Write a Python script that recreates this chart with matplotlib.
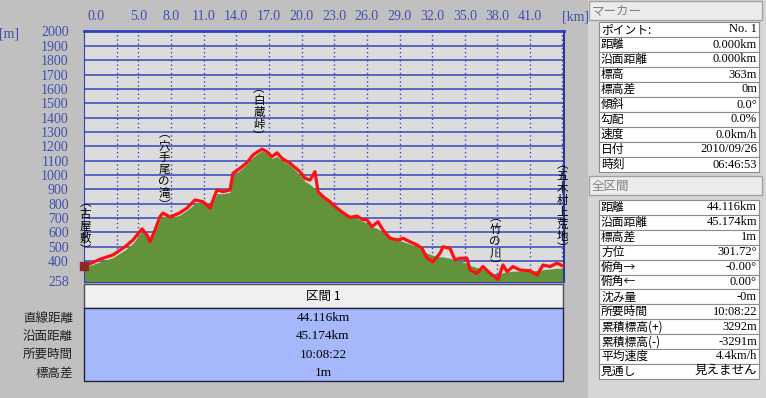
import numpy as np
import matplotlib.pyplot as plt
from matplotlib.patches import Rectangle

W, H = 766, 398
JP = ['Noto Sans CJK JP', 'DejaVu Sans']
NUM = ['Liberation Serif', 'Noto Sans CJK JP', 'DejaVu Sans']

# profile: distance [km], GPS elevation and terrain elevation [m]
dist_km = [0.00, 1.47, 2.67, 3.77, 4.50, 5.33, 5.79, 6.07, 6.53, 6.99, 7.26, 7.90,
           8.82, 9.47, 10.20, 10.94, 11.58, 12.22, 12.78, 13.42, 13.69, 14.34, 14.98,
           15.53, 16.36, 16.82, 17.28, 17.74, 18.20, 18.93, 19.85, 20.31, 20.77, 21.23,
           21.51, 21.97, 22.61, 22.89, 23.81, 24.45, 25.09, 25.55, 26.01, 26.47, 27.02,
           27.48, 28.13, 28.86, 29.32, 29.96, 30.61, 31.07, 31.53, 32.08, 32.72, 33.00,
           33.64, 34.10, 34.56, 35.20, 35.48, 36.12, 36.67, 37.32, 38.05, 38.51, 38.88,
           39.43, 40.07, 40.99, 41.64, 42.19, 42.83, 43.47, 44.116]
gps_elev = [363, 413, 443, 500, 547, 624, 582, 535, 617, 710, 735, 707,
            737, 770, 826, 814, 770, 896, 884, 896, 1012, 1047, 1086,
            1140, 1181, 1162, 1128, 1155, 1116, 1082, 1023, 977, 965, 1023,
            884, 849, 814, 791, 737, 705, 714, 691, 687, 640, 675,
            617, 559, 547, 559, 535, 512, 489, 420, 396, 455, 500,
            489, 408, 420, 420, 338, 315, 362, 315, 273, 373, 327,
            362, 338, 333, 303, 373, 362, 385, 364]
dem_elev = [355, 395, 425, 478, 525, 610, 590, 535, 600, 690, 715, 700,
            721, 755, 800, 814, 770, 870, 870, 880, 990, 1035, 1075,
            1125, 1170, 1150, 1115, 1130, 1100, 1070, 1000, 955, 935, 905,
            870, 840, 810, 790, 735, 715, 695, 680, 665, 640, 625,
            600, 570, 550, 535, 520, 500, 475, 455, 440, 430, 430,
            420, 405, 400, 385, 370, 355, 345, 320, 295, 320, 325,
            330, 330, 330, 335, 340, 345, 350, 350]

grid_elev = list(range(300, 2001, 100))
ytick_vals = [258] + list(range(400, 2001, 100))
xgrid_km = [3.0, 5.0, 8.0, 11.0, 14.0, 17.0, 20.0, 23.0, 26.0, 29.0, 32.0, 35.0, 38.0, 41.0, 43.9]
xtick_km = [5.0, 8.0, 11.0, 14.0, 17.0, 20.0, 23.0, 26.0, 29.0, 32.0, 35.0, 38.0, 41.0]

places = ['古屋敷', '穴手尾の滝', '白蔵峠', '竹の川', '五木村上荒地']
place_km = [0.09, 7.35, 16.08, 37.78, 43.93]
place_top = [855, 1335, 1650, 750, 1120]

section_labels = ['直線距離', '沿面距離', '所要時間', '標高差']
section_values = ['44.116km', '45.174km', '10:08:22', '1m']

marker_labels = ['ポイント:', '距離', '沿面距離', '標高', '標高差', '傾斜', '勾配', '速度', '日付', '時刻']
marker_values = ['No. 1', '0.000km', '0.000km', '363m', '0m', '0.0°', '0.0%', '0.0km/h',
                 '2010/09/26', '06:46:53']
total_labels = ['距離', '沿面距離', '標高差', '方位', '俯角→', '俯角←', '沈み量', '所要時間',
                '累積標高(+)', '累積標高(-)', '平均速度', '見通し']
total_values = ['44.116km', '45.174km', '1m', '301.72°', '-0.00°', '0.00°', '-0m', '10:08:22',
                '3292m', '-3291m', '4.4km/h', '見えません']

fig = plt.figure(figsize=(W / 100, H / 100), dpi=100)
fig.patch.set_facecolor('#c0c0c0')


def px_axes(x0, y0, x1, y1):
    return fig.add_axes([x0 / W, 1 - y1 / H, (x1 - x0) / W, (y1 - y0) / H])


# window chrome drawn in pixel coords
ui = px_axes(0, 0, W, H)
ui.set_xlim(0, W)
ui.set_ylim(H, 0)
ui.axis('off')

ui.add_patch(Rectangle((588, 0), W - 588, H, fc='#d6d6d6', ec='none'))

# section table under the chart
ui.add_patch(Rectangle((84, 284), 479, 24, fc='#f0f0f0', ec='#505050', lw=1))
ui.add_patch(Rectangle((84, 308), 479, 73, fc='#a6b8fc', ec='#202040', lw=1))
ui.text(323, 296, '区間 1', ha='center', va='center', fontsize=9, family=JP)
for i, (lab, val) in enumerate(zip(section_labels, section_values)):
    y = 318 + i * 18.3
    ui.text(73, y, lab, ha='right', va='center', fontsize=9, family=JP, color='#202020')
    ui.text(323, y, val, ha='center', va='center', fontsize=9.5, family=NUM)


def panel_table(top, row_h, labels, values):
    for i, (lab, val) in enumerate(zip(labels, values)):
        y = top + i * row_h
        ui.add_patch(Rectangle((599, y), 160, row_h, fc='white', ec='#8c8c8c', lw=0.8))
        ui.text(601, y + row_h / 2, lab, ha='left', va='center', fontsize=8.5, family=JP)
        ui.text(757, y + row_h / 2, val, ha='right', va='center', fontsize=9, family=NUM)


def panel_header(top, title):
    ui.add_patch(Rectangle((589, top), 173, 19, fc='#ececec', ec='#a0a0a0', lw=1))
    ui.text(592, top + 10, title, ha='left', va='center', fontsize=9, family=JP, color='#808080')


panel_header(1, 'マーカー')
panel_table(22, 15.0, marker_labels, marker_values)
panel_header(176, '全区間')
panel_table(200, 14.9, total_labels, total_values)

# elevation profile
ax = px_axes(84, 31.5, 564, 281.5)
ax.set_facecolor('#dcdcdc')
ax.set_xlim(0, 44.116)
ax.set_ylim(258, 2000)

for e in grid_elev:
    ax.axhline(e, color='#3646b8', lw=1.1, zorder=1)
for k in xgrid_km:
    ax.axvline(k, color='#3646b8', lw=1, ls=(0, (1, 2)), zorder=1)

ax.fill_between(dist_km, 258, dem_elev, color='#62923a', lw=0, zorder=2)
ax.plot(dist_km, gps_elev, color='#ff1010', lw=2.3, zorder=3)
ax.scatter([dist_km[0]], [gps_elev[0]], s=30, marker='s', color='#8a2a2a', zorder=4, clip_on=False)

for name, k, top in zip(places, place_km, place_top):
    ax.text(k, top, '\n'.join('︵' + name + '︶'), ha='center', va='top', fontsize=8.3,
            linespacing=0.9, family=JP, zorder=5, clip_on=False)

ax.set_yticks(ytick_vals)
ax.set_yticklabels([str(v) for v in ytick_vals], family=NUM, fontsize=10, color='#4050b0')
ax.tick_params(axis='y', length=0, pad=11)
ax.set_xticks([])

xt = ax.get_xaxis_transform()
for k in xtick_km:
    ax.text(k, 1.058, f'{k:.1f}', transform=xt, ha='center', va='center',
            fontsize=10, family=NUM, color='#4050b0')
ax.text(0.35, 1.058, '0.0', transform=xt, ha='left', va='center',
        fontsize=10, family=NUM, color='#4050b0')
ax.text(45.2, 1.058, '[km]', transform=xt, ha='center', va='center',
        fontsize=10, family=NUM, color='#4050b0', clip_on=False)
ax.text(-6.9, 0.99, '[m]', transform=xt, ha='center', va='center',
        fontsize=10, family=NUM, color='#4050b0', clip_on=False)

ax.spines['top'].set_color('#3040c0')
ax.spines['top'].set_linewidth(2)
ax.spines['left'].set_color('#3040c0')
ax.spines['left'].set_linestyle((0, (1, 1)))
ax.spines['right'].set_color('#2a3a9a')
ax.spines['right'].set_linewidth(1.5)
ax.spines['bottom'].set_color('#3040c0')

fig.savefig('out.png', dpi=100, facecolor=fig.get_facecolor())
